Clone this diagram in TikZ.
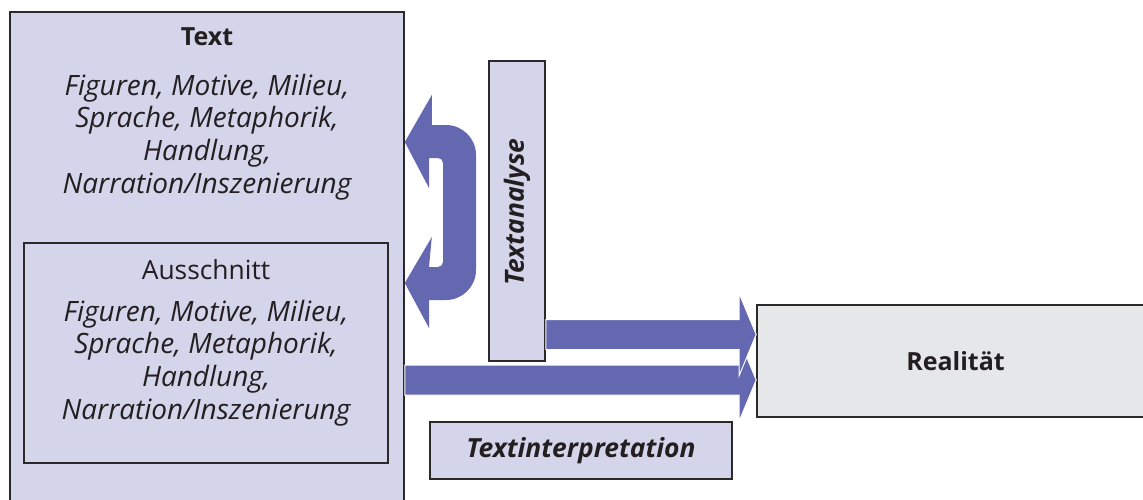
\documentclass[tikz,border=0pt]{standalone}
\usepackage{fontspec}
\setmainfont{Open Sans}
\usepackage{tikz}
\usetikzlibrary{calc,fit}
\definecolor{lav}{HTML}{D4D4EB}
\definecolor{realgray}{HTML}{E6E7E8}
\definecolor{arrowblue}{HTML}{6468B1}
\definecolor{border}{HTML}{2B2A29}
\definecolor{ink}{HTML}{231F20}
\tikzset{
  box/.style={draw=border, line width=0.8pt, fill=lav, inner sep=0pt},
  realbox/.style={box, fill=realgray},
  lbl/.style={text=ink, font=\fontsize{13.2}{16.3}\selectfont, align=center, inner sep=0pt},
  itl/.style={lbl, font=\fontsize{14}{16.3}\selectfont\itshape},
  head/.style={lbl, font=\fontsize{12.5}{16.3}\selectfont\bfseries},
  headit/.style={lbl, font=\fontsize{13.2}{16.3}\selectfont\bfseries\itshape},
  fatarrow/.style={fill=arrowblue, draw=white, line width=0.5pt}
}
\newcommand{\FatArrow}[2]{% start, tip
  \filldraw[fatarrow] ($(#1)+(0,-15)$) -- ($(#2)+(-17,-15)$) -- ($(#2)+(-17,-41)$) -- (#2)
    -- ($(#2)+(-17,41)$) -- ($(#2)+(-17,15)$) -- ($(#1)+(0,15)$) -- cycle;
}
\begin{document}
\begin{tikzpicture}[x=0.5pt,y=-0.5pt]
  \clip (0,0) rectangle (1143,499);
  \node[box, fit={(10,12) (404,520)}] (text) {};
  \node[box, fit={(24,243) (388,463)}] (aus) {};
  \node[box, fit={(489,61) (545,361)}] (ana) {};
  \node[box, fit={(430,422) (732,479)}] (interp) {};
  \node[realbox, fit={(757,305) (1160,417)}] (real) {};

  \node[head] (texthd) at (207,37) {Text};
  \node[itl] at (207,137)
    {Figuren, Motive, Milieu,\\Sprache, Metaphorik,\\Handlung,\\Narration/Inszenierung};
  \node[lbl] (aushd) at (206,270) {Ausschnitt};
  \node[itl] at (206,363)
    {Figuren, Motive, Milieu,\\Sprache, Metaphorik,\\Handlung,\\Narration/Inszenierung};
  \node[headit, rotate=90] at (ana.center |- 0,212) {Textanalyse};
  \node[headit] at (interp.center) {Textinterpretation};
  \node[head] at ($(real.center)+(-3,0)$) {Realität};

  % broad arrows into Realitaet
  \coordinate (a2s) at (text.east |- 0,380);
  \coordinate (a2t) at (real.west |- a2s);
  \FatArrow{a2s}{a2t}
  \coordinate (a1s) at (ana.east |- 0,334.5);
  \coordinate (a1t) at (real.west |- a1s);
  \FatArrow{a1s}{a1t}

  % U-shaped double arrow back into the text box
  \coordinate (ut) at (text.east |- 0,142);
  \coordinate (ub) at (text.east |- 0,283);
  \fill[arrowblue] (ut) -- ++(27,-47) -- ++(0,30) -- (446,125) arc (-90:0:30) -- (476,270)
    arc (0:90:30) -- (429,300) -- (429,328) -- (ub) -- ++(27,-46) -- (429,267) -- (438,267)
    arc (90:0:5) -- (443,163) arc (0:-90:5) -- (429,158) -- (429,188) -- cycle;
\end{tikzpicture}
\end{document}
